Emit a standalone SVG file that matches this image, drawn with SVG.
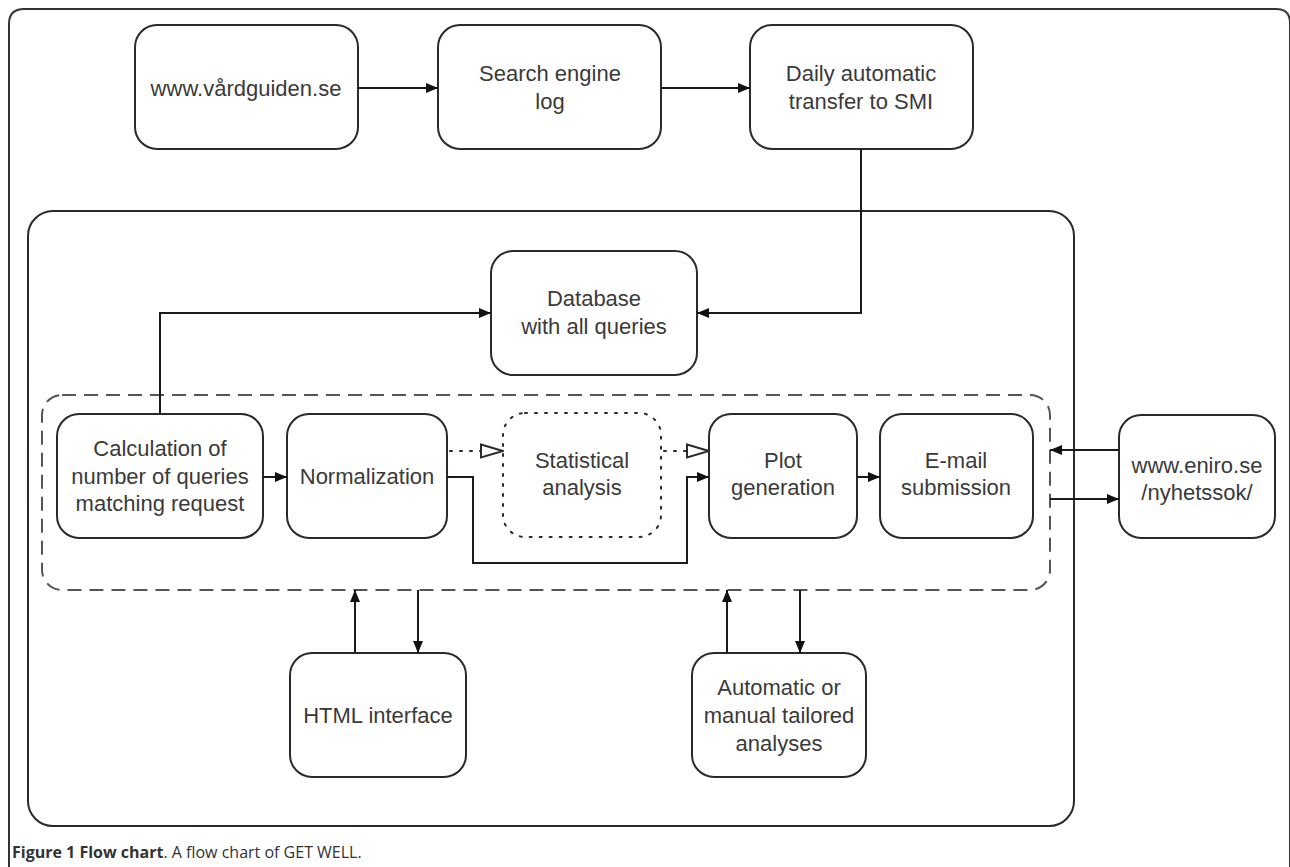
<svg xmlns="http://www.w3.org/2000/svg" width="1290" height="867" viewBox="0 0 1290 867">
<defs>
<style>
.node{fill:#fff;stroke:#2a2a2a;stroke-width:2}
.dot{fill:#fff;stroke:#2a2a2a;stroke-width:2;stroke-dasharray:2 8;stroke-linecap:round}
.lbl{font-family:"Liberation Sans",Arial,sans-serif;font-size:22px;fill:#3a3a3a;text-anchor:middle}
.con{fill:none;stroke:#1a1a1a;stroke-width:2}
.dcon{fill:none;stroke:#2a2a2a;stroke-width:2;stroke-dasharray:2 8;stroke-linecap:round}
.cap{font-family:"Open Sans","Liberation Sans",sans-serif;font-size:16px;fill:#333}
</style>
<marker id="ah" viewBox="0 0 12 10" refX="12" refY="5" markerWidth="12" markerHeight="10" orient="auto" markerUnits="userSpaceOnUse"><path d="M0,0 L12,5 L0,10 z" fill="#111"/></marker>
<marker id="oh" viewBox="0 0 24 16" refX="23" refY="8" markerWidth="24" markerHeight="16" orient="auto" markerUnits="userSpaceOnUse"><path d="M1,1.5 L23,8 L1,14.5 z" fill="#fff" stroke="#2a2a2a" stroke-width="2"/></marker>
</defs>
<rect width="1290" height="867" fill="#fff"/>
<path d="M9,867 V24 Q9,9 24,9 H1276 Q1290,9 1290,23 V867" fill="none" stroke="#333" stroke-width="2"/>
<g id="system">
<rect x="28" y="211" width="1046" height="615" rx="25" fill="none" stroke="#2a2a2a" stroke-width="2"/>
</g>
<g id="processing">
<rect x="42" y="395" width="1008" height="195" rx="20" fill="none" stroke="#555" stroke-width="2" stroke-dasharray="14 8"/>
</g>
<g id="vardguiden"><rect class="node" x="135" y="25" width="223" height="124" rx="22"/><text class="lbl" x="246" y="96">www.vårdguiden.se</text></g>
<g id="searchlog"><rect class="node" x="438" y="25" width="223" height="124" rx="22"/><text class="lbl" x="550" y="81">Search engine</text><text class="lbl" x="550" y="109">log</text></g>
<g id="daily"><rect class="node" x="750" y="25" width="223" height="124" rx="22"/><text class="lbl" x="861" y="81">Daily automatic</text><text class="lbl" x="861" y="109">transfer to SMI</text></g>
<g id="database"><rect class="node" x="491" y="251" width="206" height="124" rx="22"/><text class="lbl" x="594" y="306">Database</text><text class="lbl" x="594" y="334">with all queries</text></g>
<g id="calculation"><rect class="node" x="57" y="414" width="206" height="124" rx="22"/><text class="lbl" x="160" y="456">Calculation of</text><text class="lbl" x="160" y="484">number of queries</text><text class="lbl" x="160" y="511">matching request</text></g>
<g id="normalization"><rect class="node" x="287" y="414" width="160" height="124" rx="22"/><text class="lbl" x="367" y="484">Normalization</text></g>
<g id="statistical"><rect class="dot" x="503" y="413" width="158" height="124" rx="22"/><text class="lbl" x="582" y="468">Statistical</text><text class="lbl" x="582" y="495">analysis</text></g>
<g id="plot"><rect class="node" x="709" y="414" width="148" height="124" rx="22"/><text class="lbl" x="783" y="468">Plot</text><text class="lbl" x="783" y="495">generation</text></g>
<g id="email"><rect class="node" x="880" y="414" width="153" height="124" rx="22"/><text class="lbl" x="956" y="468">E-mail</text><text class="lbl" x="956" y="495">submission</text></g>
<g id="eniro"><rect class="node" x="1119" y="415" width="156" height="123" rx="22"/><text class="lbl" x="1197" y="473">www.eniro.se</text><text class="lbl" x="1197" y="500">/nyhetssok/</text></g>
<g id="html"><rect class="node" x="290" y="653" width="176" height="124" rx="22"/><text class="lbl" x="378" y="723">HTML interface</text></g>
<g id="tailored"><rect class="node" x="692" y="653" width="174" height="124" rx="22"/><text class="lbl" x="779" y="695">Automatic or</text><text class="lbl" x="779" y="723">manual tailored</text><text class="lbl" x="779" y="751">analyses</text></g>
<g id="connectors">
<path class="con" d="M358,88 H438" marker-end="url(#ah)"/>
<path class="con" d="M661,88 H750" marker-end="url(#ah)"/>
<path class="con" d="M861,149 V313 H697" marker-end="url(#ah)"/>
<path class="con" d="M160,414 V313 H491" marker-end="url(#ah)"/>
<path class="con" d="M263,477 H287" marker-end="url(#ah)"/>
<path class="con" d="M447,477 H473 V563 H687 V477 H709" marker-end="url(#ah)"/>
<path class="con" d="M857,477 H880" marker-end="url(#ah)"/>
<path class="dcon" d="M450,451 H503" marker-end="url(#oh)"/>
<path class="dcon" d="M664,451 H709" marker-end="url(#oh)"/>
<path class="con" d="M1119,450 H1050" marker-end="url(#ah)"/>
<path class="con" d="M1050,499 H1119" marker-end="url(#ah)"/>
<path class="con" d="M355,653 V590" marker-end="url(#ah)"/>
<path class="con" d="M418,590 V653" marker-end="url(#ah)"/>
<path class="con" d="M727,653 V590" marker-end="url(#ah)"/>
<path class="con" d="M800,590 V653" marker-end="url(#ah)"/>
</g>
<text class="cap" x="12" y="858"><tspan font-weight="bold">Figure 1 Flow chart</tspan>. A flow chart of GET WELL.</text>
</svg>
